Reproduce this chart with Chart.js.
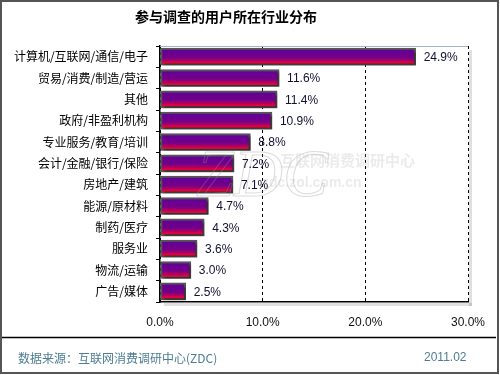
<!DOCTYPE html>
<html>
<head>
<meta charset="utf-8">
<script src="https://cdn.jsdelivr.net/npm/chart.js@4/dist/chart.umd.min.js"></script>
<style>
html,body{margin:0;padding:0;background:#fff;}
#wrap{width:500px;height:375px;position:relative;}
</style>
</head>
<body>
<div id="wrap"><canvas id="c" width="500" height="375"></canvas></div>
<script>
const titleText = '参与调查的用户所在行业分布';
const categories = ['计算机/互联网/通信/电子','贸易/消费/制造/营运','其他','政府/非盈利机构','专业服务/教育/培训','会计/金融/银行/保险','房地产/建筑','能源/原材料','制药/医疗','服务业','物流/运输','广告/媒体'];
const values = [24.9, 11.6, 11.4, 10.9, 8.8, 7.2, 7.1, 4.7, 4.3, 3.6, 3.0, 2.5];
const xTicks = [0, 10, 20, 30];
const sourceText = '数据来源：互联网消费调研中心(ZDC)';
const dateText = '2011.02';

const CJK = '"Noto Sans CJK SC", "Noto Sans", sans-serif';
const LAT = '"Liberation Sans", Arial, sans-serif';
const BAR_T = 17;

function barGradient(c) {
  const chart = c.chart;
  const ys = chart.scales && chart.scales.y;
  if (!ys || c.dataIndex === undefined) return '#800080';
  const yc = ys.getPixelForValue(c.dataIndex);
  if (!isFinite(yc)) return '#800080';
  const t = yc - BAR_T / 2, b = yc + BAR_T / 2;
  const g = chart.ctx.createLinearGradient(0, t, 0, b);
  g.addColorStop(0, '#5a4a6a');
  g.addColorStop(0.12, '#640096');
  g.addColorStop(0.55, '#72008a');
  g.addColorStop(0.75, '#b4005e');
  g.addColorStop(0.9, '#ff0030');
  g.addColorStop(1, '#e00022');
  return g;
}

const framePlugin = {
  id: 'frame',
  beforeDraw(chart) {
    const ctx = chart.ctx, a = chart.chartArea;
    ctx.save();
    ctx.fillStyle = '#fff';
    ctx.fillRect(0, 0, chart.width, chart.height);
    ctx.fillStyle = 'rgba(0,0,0,0.12)';
    ctx.fillRect(a.right + 1, a.top + 4, 3, a.bottom - a.top);
    ctx.fillRect(a.left + 4, a.bottom + 1, a.right - a.left, 3);
    ctx.restore();
  },
  beforeDatasetsDraw(chart) {
    const ctx = chart.ctx, a = chart.chartArea;
    ctx.save();
    ctx.strokeStyle = '#a8b4cc';
    ctx.lineWidth = 1;
    ctx.beginPath();
    ctx.moveTo(a.left, a.top + 0.5);
    ctx.lineTo(a.right, a.top + 0.5);
    ctx.stroke();
    ctx.restore();
    ctx.save();
    ctx.shadowColor = 'rgba(0,0,0,0.45)';
    ctx.shadowOffsetX = 2;
    ctx.shadowOffsetY = 2;
    ctx.shadowBlur = 2;
  },
  afterDatasetsDraw(chart) {
    const ctx = chart.ctx;
    ctx.restore();
    ctx.save();
    ctx.font = 'italic 68px "Liberation Serif", serif';
    ctx.strokeStyle = 'rgba(150,150,150,0.35)';
    ctx.lineWidth = 1;
    ctx.strokeText('ZDC', 196, 196);
    ctx.fillStyle = 'rgba(190,190,190,0.3)';
    ctx.font = 'bold 15px ' + CJK;
    ctx.fillText('互联网消费调研中心', 280, 166);
    ctx.font = 'bold 14px ' + LAT;
    ctx.fillText('zdc.zol.com.cn', 262, 187);
    ctx.restore();
    const meta = chart.getDatasetMeta(0);
    ctx.save();
    ctx.font = '12px ' + LAT;
    ctx.fillStyle = '#111133';
    ctx.textBaseline = 'middle';
    ctx.textAlign = 'left';
    meta.data.forEach((el, i) => {
      ctx.fillText(values[i].toFixed(1) + '%', el.x + 8, el.y + 1);
    });
    ctx.restore();
  },
  afterDraw(chart) {
    const ctx = chart.ctx;
    ctx.save();
    ctx.fillStyle = '#000';
    ctx.font = 'bold 14px ' + CJK;
    ctx.textAlign = 'center';
    ctx.textBaseline = 'middle';
    ctx.fillText(titleText, 226, 17);
    ctx.strokeStyle = '#000';
    ctx.lineWidth = 1.5;
    ctx.beginPath();
    ctx.moveTo(2, 337.5);
    ctx.lineTo(496, 337.5);
    ctx.stroke();
    ctx.fillStyle = '#4d7d93';
    ctx.font = '12px ' + CJK;
    ctx.textAlign = 'left';
    ctx.fillText(sourceText, 18, 358);
    ctx.font = '12px ' + LAT;
    ctx.fillText(dateText, 424, 358);
    ctx.strokeStyle = '#555';
    ctx.lineWidth = 2;
    ctx.strokeRect(1, 1, 497, 372);
    ctx.restore();
  }
};

const chart = new Chart(document.getElementById('c'), {
  type: 'bar',
  data: {
    labels: categories,
    datasets: [{
      data: values,
      backgroundColor: barGradient,
      borderColor: '#555',
      borderWidth: 2,
      borderSkipped: false,
      barThickness: BAR_T
    }]
  },
  options: {
    indexAxis: 'y',
    responsive: false,
    animation: false,
    devicePixelRatio: 1,
    layout: { padding: { left: 0, top: 46, right: 32, bottom: 0 } },
    plugins: { legend: { display: false }, tooltip: { enabled: false }, title: { display: false } },
    scales: {
      x: {
        min: 0, max: 30,
        afterBuildTicks(s) { s.ticks = xTicks.map(v => ({ value: v })); },
        afterFit(s) { s.height = 73; },
        ticks: {
          callback: v => Number(v).toFixed(1) + '%',
          color: '#111',
          font: { family: LAT, size: 12 },
          padding: 13,
          maxRotation: 0
        },
        grid: { color: '#000', lineWidth: 1, drawTicks: false },
        border: { display: true, color: '#000', width: 1.5, dash: [3, 3] }
      },
      y: {
        afterFit(s) { s.width = 160; },
        ticks: {
          color: '#000',
          font: { family: CJK, size: 12 },
          padding: 8,
          autoSkip: false
        },
        grid: { display: true, drawOnChartArea: false, color: '#000', tickLength: 4, offset: true },
        border: { display: true, color: '#000', width: 1.5 }
      }
    }
  },
  plugins: [framePlugin]
});
chart.update();
</script>
</body>
</html>
